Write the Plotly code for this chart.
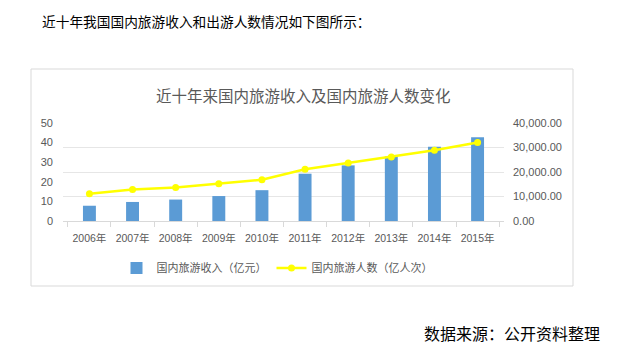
import plotly.graph_objects as go

years = ["2006年", "2007年", "2008年", "2009年", "2010年", "2011年", "2012年", "2013年", "2014年", "2015年"]
revenue = [6229.7, 7770.6, 8749.3, 10183.7, 12579.8, 19305.4, 22706.2, 26276.1, 30311.9, 34195.1]
visitors = [13.94, 16.10, 17.12, 19.02, 21.03, 26.41, 29.57, 32.62, 36.11, 40.00]
left_ticks = [0, 10, 20, 30, 40, 50]
right_ticks = [0, 10000, 20000, 30000, 40000]

W, H = 618, 354
FONT = "Liberation Sans, Noto Sans CJK SC, sans-serif"
GREY = "#595959"

def px(x):
    return x / W

def py(y):
    return 1 - y / H

fig = go.Figure()
fig.add_trace(go.Bar(
    x=years, y=revenue, name="国内旅游收入（亿元）",
    marker=dict(color="#5B9BD5", line=dict(width=0)),
    width=0.3, yaxis="y",
))
fig.add_trace(go.Scatter(
    x=years, y=visitors, name="国内旅游人数（亿人次）",
    mode="lines+markers",
    line=dict(color="#FFFF00", width=2.5),
    marker=dict(color="#FFFF00", size=7),
    yaxis="y2",
))

fig.update_layout(
    width=W, height=H,
    margin=dict(l=0, r=0, t=0, b=0, autoexpand=False),
    paper_bgcolor="white", plot_bgcolor="white",
    font=dict(family=FONT, color=GREY, size=11),
    showlegend=True,
    legend=dict(
        orientation="h", x=px(277), y=py(268), xanchor="center", yanchor="middle",
        font=dict(size=11, color=GREY), itemwidth=30, bgcolor="rgba(0,0,0,0)",
    ),
    xaxis=dict(
        domain=[px(63), px(504)], automargin=False, tickangle=0,
        tickson="boundaries", ticks="outside", ticklen=5, tickcolor="#D9D9D9",
        ticklabelstandoff=7,
        showline=True, linecolor="#D9D9D9", linewidth=1,
        showgrid=False, tickfont=dict(size=10.5, color=GREY),
    ),
    yaxis=dict(
        domain=[py(221), py(123)], side="right", automargin=False,
        range=[0, 40000], tickvals=right_ticks, tickformat=",.2f",
        ticklabelstandoff=8,
        showgrid=True, gridcolor="#E6E6E6", gridwidth=1,
        zeroline=False, showline=False, ticks="",
        tickfont=dict(size=11, color=GREY),
    ),
    yaxis2=dict(
        overlaying="y", side="left", automargin=False,
        range=[0, 50], tickvals=left_ticks,
        ticklabelstandoff=9,
        showgrid=False, zeroline=False, showline=False, ticks="",
        tickfont=dict(size=11, color=GREY),
    ),
    shapes=[dict(
        type="rect", xref="paper", yref="paper",
        x0=px(31), x1=px(573), y0=py(286), y1=py(69),
        line=dict(color="#D9D9D9", width=1), fillcolor="rgba(0,0,0,0)", layer="below",
    )],
    annotations=[
        dict(text="近十年来国内旅游收入及国内旅游人数变化", xref="paper", yref="paper",
             x=px(303), y=py(95), xanchor="center", yanchor="middle", showarrow=False,
             font=dict(size=15.5, color=GREY, family="Noto Sans CJK SC")),
        dict(text="近十年我国国内旅游收入和出游人数情况如下图所示：", xref="paper", yref="paper",
             x=px(40), y=py(21), xanchor="left", yanchor="middle", showarrow=False,
             font=dict(size=13.7, color="#000000", family="Noto Sans CJK SC")),
        dict(text="数据来源：公开资料整理", xref="paper", yref="paper",
             x=px(602), y=py(333), xanchor="right", yanchor="middle", showarrow=False,
             font=dict(size=16, color="#000000", family="Noto Sans CJK SC")),
    ],
)

fig.write_html("out.html")
